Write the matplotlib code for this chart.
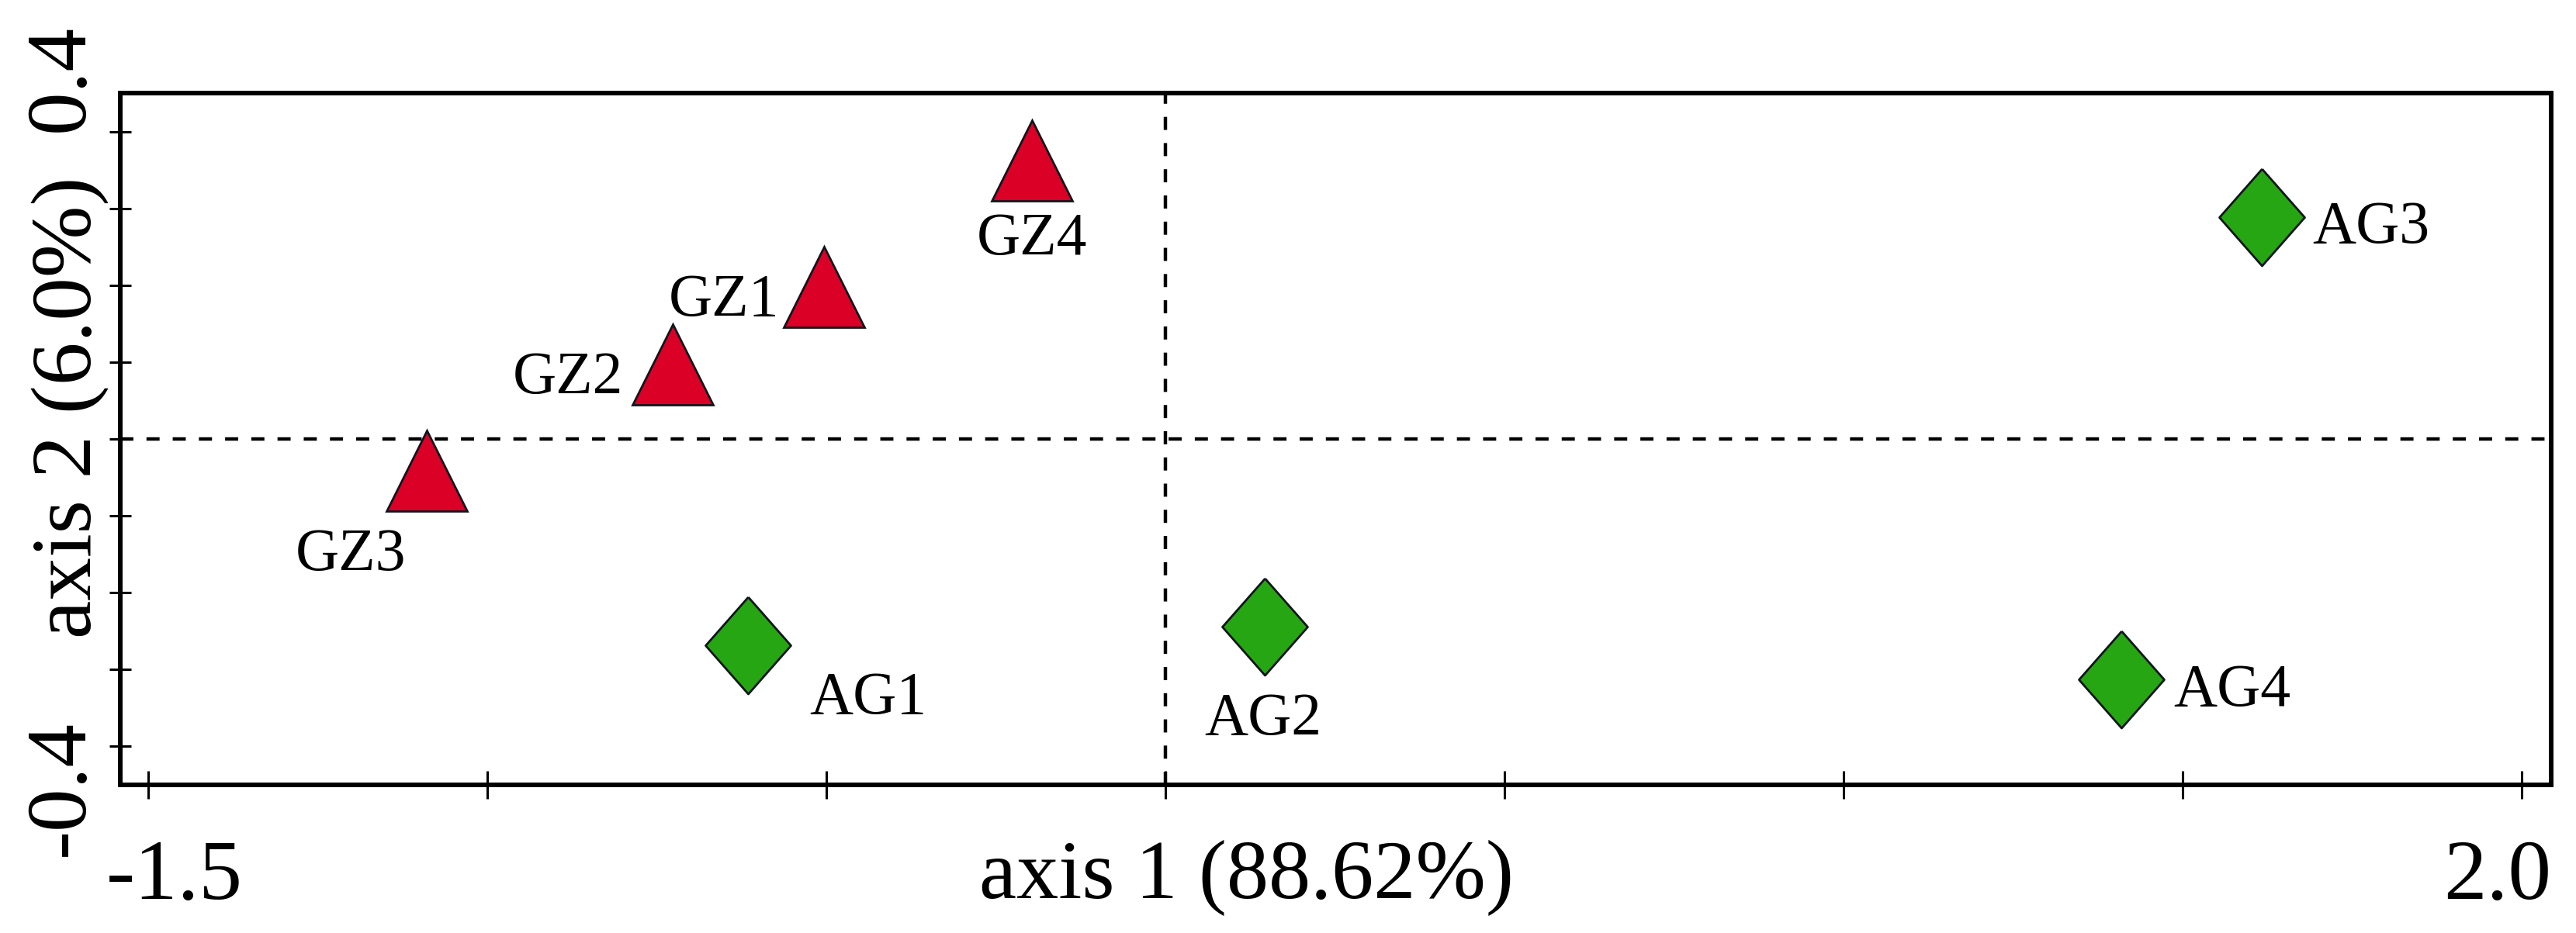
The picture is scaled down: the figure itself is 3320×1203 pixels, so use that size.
import matplotlib
matplotlib.use('Agg')
import matplotlib.pyplot as plt
import matplotlib.transforms as mtransforms

# Ordination scores (axis 1, axis 2)
gz_names = ['GZ1', 'GZ2', 'GZ3', 'GZ4']
gz_x = [-0.503, -0.727, -1.089, -0.197]
gz_y = [0.198, 0.097, -0.041, 0.363]

ag_names = ['AG1', 'AG2', 'AG3', 'AG4']
ag_x = [-0.616, 0.147, 1.617, 1.410]
ag_y = [-0.269, -0.244, 0.289, -0.313]

x_ticks = [-1.5, -1.0, -0.5, 0.0, 0.5, 1.0, 1.5, 2.0]
x_tick_labels = ['-1.5', '', '', '', '', '', '', '2.0']
y_ticks = [-0.4, -0.3, -0.2, -0.1, 0.0, 0.1, 0.2, 0.3, 0.4]
y_tick_labels = ['-0.4', '', '', '', '', '', '', '', '0.4']

x_title = 'axis 1 (88.62%)'
y_title = 'axis 2 (6.0%)'

# where each point label sits relative to its marker (pixels, ha)
label_place = {
    'GZ1': (-58, -37, 'right'),
    'GZ2': (-63, -37, 'right'),
    'GZ3': (-98, -128, 'center'),
    'GZ4': (0, -121, 'center'),
    'AG1': (80, -88, 'left'),
    'AG2': (-3, -139, 'center'),
    'AG3': (65, -33, 'left'),
    'AG4': (67, -34, 'left'),
}

plt.rcParams['font.family'] = ['Liberation Serif', 'DejaVu Serif']

fig = plt.figure(figsize=(33.2, 12.03), dpi=100)
ax = fig.add_axes([0.0467, 0.1588, 0.9437, 0.7415])

ax.axhline(0, color='black', lw=3.2, dashes=(3.8, 3.8), zorder=1)
ax.axvline(0, color='black', lw=3.2, dashes=(3.8, 3.8), zorder=1)

diamond = [(0, 1), (0.88, 0), (0, -1), (-0.88, 0), (0, 1)]
ax.plot(gz_x, gz_y, linestyle='none', marker='^', ms=75,
        mfc='#da0026', mec='#10151c', mew=2, zorder=3)
ax.plot(ag_x, ag_y, linestyle='none', marker=diamond, ms=90,
        mfc='#26a612', mec='#10151c', mew=2, zorder=3)

for names, xs, ys in [(gz_names, gz_x, gz_y), (ag_names, ag_x, ag_y)]:
    for n, x, y in zip(names, xs, ys):
        dx, dy, ha = label_place[n]
        ax.annotate(n, (x, y), xytext=(dx, dy), textcoords='offset pixels',
                    ha=ha, va='baseline', fontsize=56, zorder=4)

ax.set_xlim(-1.541, 2.0435)
ax.set_ylim(-0.4505, 0.4505)

for s in ax.spines.values():
    s.set_linewidth(4.3)

ax.set_xticks(x_ticks, x_tick_labels, fontsize=80)
ax.set_yticks(y_ticks, y_tick_labels, fontsize=80)
ax.tick_params(axis='x', direction='inout', length=26, width=2.2, pad=38)
ax.tick_params(axis='y', direction='inout', length=20, width=2.2, pad=24.5)

# nudge the two end labels like the original layout
shifts = {'-1.5': 34, '2.0': -31}
for lab in ax.get_xticklabels():
    t = lab.get_text()
    if t in shifts:
        off = mtransforms.ScaledTranslation(shifts[t] / 100, 0, fig.dpi_scale_trans)
        lab.set_transform(lab.get_transform() + off)

for lab in ax.get_yticklabels():
    lab.set_rotation(90)
    lab.set_rotation_mode('anchor')
    lab.set_va('baseline')
    if lab.get_text() == '0.4':
        lab.set_ha('left')
    elif lab.get_text() == '-0.4':
        lab.set_ha('right')
        off = mtransforms.ScaledTranslation(0, 0.34, fig.dpi_scale_trans)
        lab.set_transform(lab.get_transform() + off)

ax.set_xlabel(x_title, fontsize=78)
ax.xaxis.label.set_va('baseline')
ax.xaxis.set_label_coords(0.4634, -0.1637)

ax.set_ylabel(y_title, fontsize=80)
ax.yaxis.label.set_va('baseline')
ax.yaxis.set_label_coords(-0.0121, 0.546)

fig.savefig('out.png', dpi=100)
